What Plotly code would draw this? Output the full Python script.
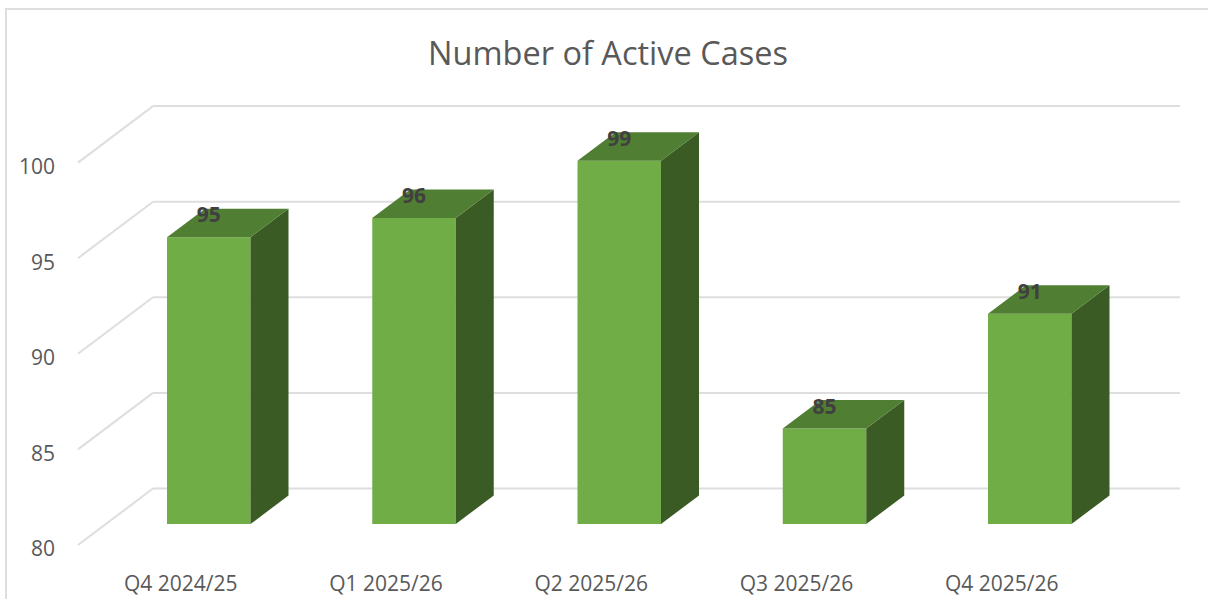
import plotly.graph_objects as go

categories = ["Q4 2024/25", "Q1 2025/26", "Q2 2025/26", "Q3 2025/26", "Q4 2025/26"]
active_cases = [95, 96, 99, 85, 91]
y_ticks = [80, 85, 90, 95, 100]
BASE = 80

FONT = "Open Sans"
GRID = "#DEDEDE"
TEXT = "#595959"

# pixel scale of the two axes
W, H = 1208, 599
PX_X, PX_Y = 205.25, 19.12
ORIGIN_X, ORIGIN_Y = 208.75, 524.0
L, B = 56, 30


def ux(px):
    return (px - ORIGIN_X) / PX_X


def uy(px):
    return BASE + (ORIGIN_Y - px) / PX_Y


bar_w = 83.5 / PX_X
dep_x, dep_y = 38 / PX_X, 28.5 / PX_Y        # bar depth
floor_x, floor_y = -28 / PX_X, -21 / PX_Y    # wall front plane vs bar front plane
wall_x, wall_y = 75 / PX_X, 56.5 / PX_Y      # wall depth
right_end = ux(1180)

idx = list(range(len(categories)))
fig = go.Figure()

# back wall gridlines and floor diagonals
shapes = []
for t in y_ticks:
    fy = t + floor_y
    x0 = ux(78)
    shapes.append(dict(type="line", layer="below", xref="x", yref="y", x0=x0, y0=fy,
                       x1=x0 + wall_x, y1=fy + wall_y, line=dict(color=GRID, width=2)))
    shapes.append(dict(type="line", layer="below", xref="x", yref="y", x0=x0 + wall_x, y0=fy + wall_y,
                       x1=right_end, y1=fy + wall_y, line=dict(color=GRID, width=2)))
# chart border (left and top only are inside the crop)
bx = (6 - L) / (W - L)
by = (H - B - 9) / (H - B)
shapes.append(dict(type="path", xref="paper", yref="paper", layer="below",
                   path=f"M {bx} {-B/(H-B)} L {bx} {by} L {1 + 10/(W-L)} {by}",
                   line=dict(color=GRID, width=2)))

# front faces
fig.add_trace(go.Bar(x=idx, y=[v - BASE for v in active_cases], base=BASE, width=bar_w,
                     marker=dict(color="#70AD47", line=dict(width=0)), name="Active Cases",
                     showlegend=False, hoverinfo="skip"))

# side and top faces
for i, v in zip(idx, active_cases):
    r = i + bar_w / 2
    l = i - bar_w / 2
    fig.add_trace(go.Scatter(x=[r, r + dep_x, r + dep_x, r, r], y=[BASE, BASE + dep_y, v + dep_y, v, BASE],
                             mode="lines", fill="toself", fillcolor="#3A5B23", line=dict(width=0),
                             showlegend=False, hoverinfo="skip"))
    fig.add_trace(go.Scatter(x=[l, r, r + dep_x, l + dep_x, l], y=[v, v, v + dep_y, v + dep_y, v],
                             mode="lines", fill="toself", fillcolor="#507E32", line=dict(width=0),
                             showlegend=False, hoverinfo="skip"))

# data labels
fig.add_trace(go.Scatter(x=idx, y=[v + 20 / PX_Y for v in active_cases], mode="text",
                         text=[str(v) for v in active_cases], textposition="middle center",
                         textfont=dict(family=FONT, size=21, color="#404040", weight="bold"),
                         showlegend=False, hoverinfo="skip"))

fig.update_layout(
    width=W, height=H,
    margin=dict(l=L, r=0, t=0, b=B, pad=0),
    paper_bgcolor="white", plot_bgcolor="white",
    shapes=shapes,
    showlegend=False,
    title=dict(text="Number of Active Cases", x=608 / W, xanchor="center", xref="container",
               y=1 - 54 / H, yanchor="middle", yref="container",
               font=dict(family=FONT, size=32.5, color=TEXT)),
    xaxis=dict(range=[ux(L), ux(W)], showgrid=False, zeroline=False, showline=False,
               tickmode="array", tickvals=[i + floor_x for i in idx], ticktext=categories,
               ticks="", tickfont=dict(family=FONT, size=21, color=TEXT)),
    yaxis=dict(range=[uy(H - B), uy(0)], showgrid=False, zeroline=False, showline=False,
               tickmode="array", tickvals=[t + floor_y - 4 / PX_Y for t in y_ticks],
               ticktext=[str(t) for t in y_ticks],
               ticks="", tickfont=dict(family=FONT, size=21, color=TEXT)),
)

fig.write_html("out.html", config={"displayModeBar": False},
               post_script="document.body.style.margin='0';document.body.style.overflow='hidden';")
